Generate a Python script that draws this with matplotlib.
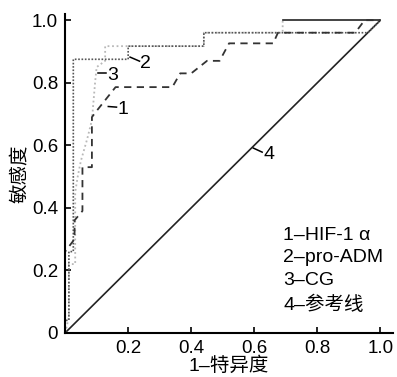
"""ROC curves for HIF-1α, pro-ADM and CG with the reference diagonal."""

import matplotlib

matplotlib.use("Agg")
import matplotlib.pyplot as plt

plt.rcParams["font.family"] = ["Liberation Sans", "Noto Sans CJK SC", "DejaVu Sans"]

# curve 1: HIF-1α (dashed)
hif_fpr = [0.0, 0.0, 0.03, 0.03, 0.055, 0.055, 0.085, 0.085, 0.10, 0.16, 0.34, 0.365,
           0.40, 0.45, 0.49, 0.52, 0.66, 0.675, 0.92, 0.95, 1.0]
hif_tpr = [0.0, 0.26, 0.30, 0.36, 0.39, 0.53, 0.53, 0.69, 0.71, 0.786, 0.786, 0.83,
           0.83, 0.87, 0.87, 0.926, 0.926, 0.96, 0.96, 1.0, 1.0]

# curve 2: pro-ADM (dark dotted)
adm_fpr = [0.0, 0.0, 0.012, 0.012, 0.026, 0.026, 0.20, 0.20, 0.44, 0.44, 0.96, 1.0]
adm_tpr = [0.0, 0.04, 0.04, 0.26, 0.26, 0.875, 0.875, 0.917, 0.917, 0.96, 0.96, 1.0]

# curve 3: CG (light dotted)
cg_fpr = [0.0, 0.012, 0.012, 0.032, 0.032, 0.04, 0.05, 0.07, 0.085, 0.09, 0.095,
          0.10, 0.127, 0.127, 0.44, 0.44, 0.69, 0.69, 1.0]
cg_tpr = [0.0, 0.05, 0.22, 0.22, 0.45, 0.50, 0.55, 0.62, 0.68, 0.74, 0.80,
          0.85, 0.87, 0.917, 0.917, 0.96, 0.96, 1.0, 1.0]

# curve 4: reference line
ref_fpr = [0.0, 1.0]
ref_tpr = [0.0, 1.0]

x_ticks = [0.2, 0.4, 0.6, 0.8, 1.0]
x_tick_labels = ["0.2", "0.4", "0.6", "0.8", "1.0"]
y_ticks = [0.0, 0.2, 0.4, 0.6, 0.8, 1.0]
y_tick_labels = ["0", "0.2", "0.4", "0.6", "0.8", "1.0"]

legend_lines = ["1\u2013HIF-1 \u03b1", "2\u2013pro-ADM", "3\u2013CG", "4\u2013参考线"]
legend_y = [0.31, 0.24, 0.168, 0.09]


def main() -> None:
    fig = plt.figure(figsize=(3.97, 3.77), dpi=100)
    ax = fig.add_axes([0.164, 0.117, 0.826, 0.846])

    ax.plot(ref_fpr, ref_tpr, color="#222222", lw=1.2, solid_capstyle="butt")
    ax.plot(cg_fpr[:-1], cg_tpr[:-1], color="#b8b8b8", lw=1.3, linestyle=(0, (1, 1.5)))
    ax.plot(cg_fpr[-2:], cg_tpr[-2:], color="#222222", lw=1.2)
    ax.plot(adm_fpr, adm_tpr, color="#555555", lw=1.2, linestyle=(0, (1, 1)))
    ax.plot(hif_fpr, hif_tpr, color="#333333", lw=1.3, linestyle=(0, (4, 3)))

    # curve tags: leader line start/end, then the digit
    tags = [
        ("1", (0.137, 0.724), (0.163, 0.722)),
        ("2", (0.206, 0.882), (0.236, 0.869)),
        ("3", (0.105, 0.83), (0.131, 0.83)),
        ("4", (0.597, 0.591), (0.625, 0.578)),
    ]
    for text, (x0, y0), (x1, y1) in tags:
        ax.plot([x0, x1], [y0, y1], color="black", lw=1.1)
        ax.text(x1 + 0.003, y1 - 0.008, text, fontsize=14, ha="left", va="center")

    for line, y in zip(legend_lines, legend_y):
        ax.text(0.692, y, line, fontsize=14, ha="left", va="center")

    ax.set_xlim(0, 1.04)
    ax.set_ylim(0, 1.02)
    ax.set_xticks(x_ticks)
    ax.set_xticklabels(x_tick_labels)
    ax.set_yticks(y_ticks)
    ax.set_yticklabels(y_tick_labels)
    ax.tick_params(direction="in", length=4, width=1.2, labelsize=13.5, pad=5)

    ax.spines["top"].set_visible(False)
    ax.spines["right"].set_visible(False)
    ax.spines["left"].set_linewidth(1.5)
    ax.spines["bottom"].set_linewidth(1.5)

    ax.set_xlabel("1\u2013特异度", fontsize=14, labelpad=0)
    ax.set_ylabel("敏感度", fontsize=14, labelpad=2)

    fig.savefig("out.png", dpi=100)
    plt.close(fig)


if __name__ == "__main__":
    main()
